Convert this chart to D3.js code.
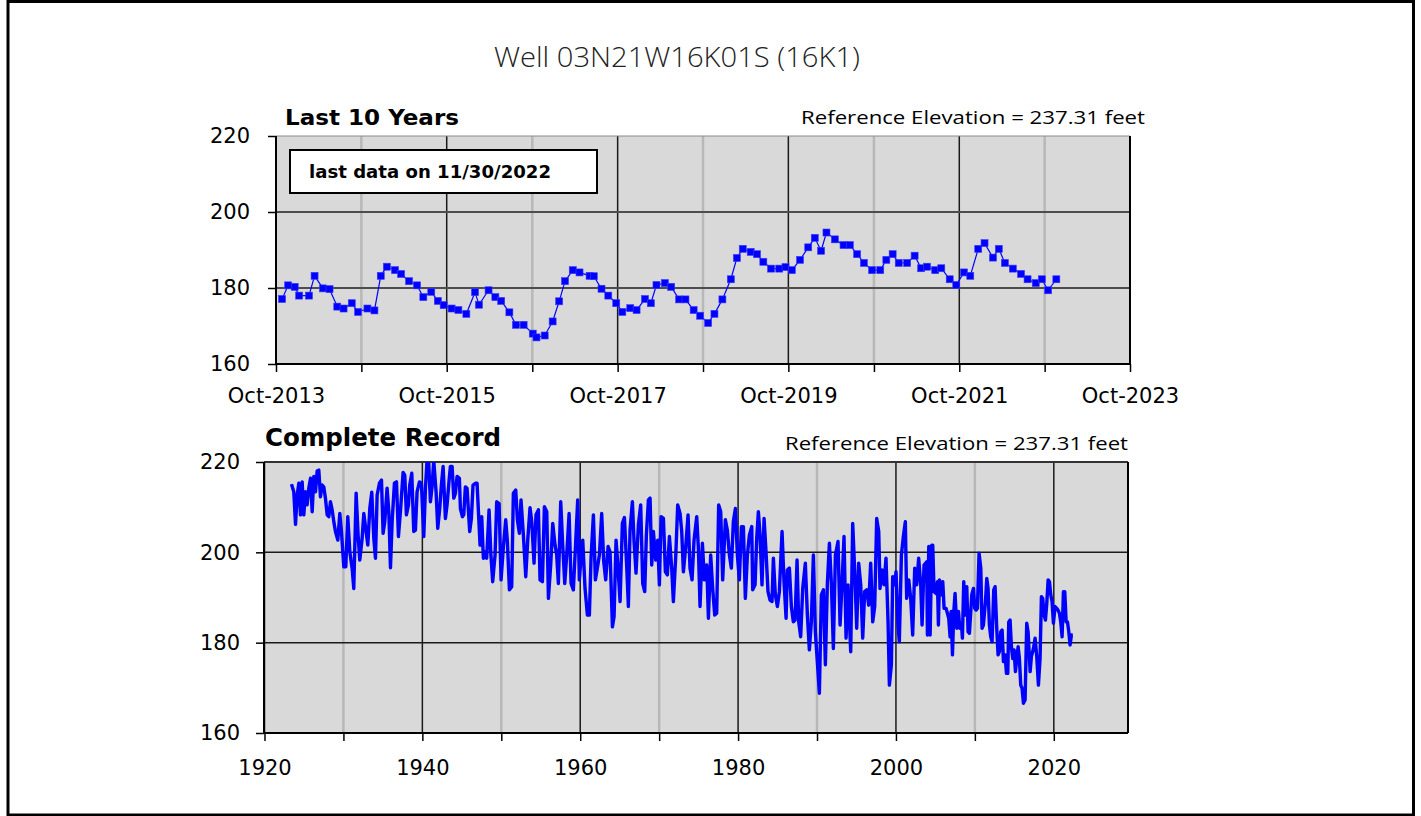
<!DOCTYPE html>
<html><head><meta charset="utf-8">
<script src="https://cdn.jsdelivr.net/npm/d3@7"></script>
<style>body{margin:0;background:#fff;} svg{display:block;}</style>
</head><body>
<svg id="chart" width="1421" height="816"></svg>
<script>
// ---------------- DATA ----------------
const titleText = "Well 03N21W16K01S (16K1)";
const topTitle = "Last 10 Years";
const bottomTitle = "Complete Record";
const refElevText = "Reference Elevation = 237.31 feet";
const lastDataText = "last data on 11/30/2022";

const yTicks = [160, 180, 200, 220];
const tenYrTickYears = [2013, 2014, 2015, 2016, 2017, 2018, 2019, 2020, 2021, 2022, 2023];
const tenYrLabelYears = [2013, 2015, 2017, 2019, 2021, 2023];
const recordTickYears = [1920, 1930, 1940, 1950, 1960, 1970, 1980, 1990, 2000, 2010, 2020];
const recordLabelYears = [1920, 1940, 1960, 1980, 2000, 2020];

const tenYrDates = [
"2013-10-27","2013-11-22","2013-12-20","2014-01-08","2014-02-19","2014-03-15","2014-04-20","2014-05-18",
"2014-06-20","2014-07-17","2014-08-21","2014-09-17","2014-10-27","2014-11-26","2014-12-23","2015-01-18",
"2015-02-22","2015-03-20","2015-04-23","2015-05-27","2015-06-23","2015-07-27","2015-08-24","2015-09-18",
"2015-10-22","2015-11-20","2015-12-24","2016-01-30","2016-02-16","2016-03-28","2016-04-26","2016-05-21",
"2016-06-25","2016-07-23","2016-08-25","2016-10-03","2016-10-19","2016-11-23","2016-12-27","2017-01-24",
"2017-02-18","2017-03-23","2017-04-21","2017-06-03","2017-06-21","2017-07-24","2017-08-22","2017-09-25",
"2017-10-21","2017-11-24","2017-12-21","2018-01-26","2018-02-20","2018-03-16","2018-04-21","2018-05-18",
"2018-06-21","2018-07-18","2018-08-22","2018-09-19","2018-10-23","2018-11-19","2018-12-23","2019-01-28",
"2019-02-23","2019-03-20","2019-04-23","2019-05-20","2019-06-16","2019-07-19","2019-08-23","2019-09-19",
"2019-10-16","2019-11-20","2019-12-25","2020-01-22","2020-02-18","2020-03-12","2020-04-17","2020-05-24",
"2020-06-20","2020-07-21","2020-08-19","2020-09-23","2020-10-28","2020-11-23","2020-12-20","2021-01-15",
"2021-02-20","2021-03-24","2021-04-21","2021-05-16","2021-06-20","2021-07-16","2021-08-21","2021-09-18",
"2021-10-21","2021-11-17","2021-12-21","2022-01-17","2022-02-22","2022-03-19","2022-04-14","2022-05-18",
"2022-06-22","2022-07-20","2022-08-24","2022-09-19","2022-10-16","2022-11-20"];
const tenYrLevels = [
177.1,180.7,180.3,178.0,178.0,183.2,179.9,179.7,
175.1,174.6,176.0,173.7,174.6,174.1,183.2,185.6,
184.7,183.7,181.8,180.7,177.6,179.0,176.6,175.5,
174.6,174.2,173.2,178.9,175.6,179.4,177.6,176.6,
173.6,170.3,170.3,168.0,167.0,167.5,171.2,176.5,
181.8,184.7,184.1,183.2,183.1,179.8,178.0,176.0,
173.7,174.7,174.2,177.1,176.0,180.8,181.3,180.3,
177.0,177.0,174.2,172.7,170.8,173.2,177.0,182.3,
187.9,190.3,189.5,188.9,186.9,185.1,185.1,185.5,
184.7,187.4,190.7,193.2,189.8,194.6,192.8,191.3,
191.3,188.9,186.6,184.7,184.7,187.4,188.9,186.6,
186.6,188.5,185.2,185.6,184.7,185.2,182.3,180.8,
184.1,183.2,190.3,191.8,188.0,190.3,186.6,185.1,
183.7,182.3,181.3,182.3,179.4,182.3];

const recordYears = [
1923.42,1923.71,1923.93,1924.14,1924.35,1924.56,1924.77,1924.98,1925.19,1925.40,1925.61,1925.83,1926.04,1926.25,1926.46,1926.67,1926.88,
1927.09,1927.30,1927.51,1927.72,1927.94,1928.15,1928.36,1928.57,1928.78,1928.99,1929.29,1929.54,1929.75,1930.05,1930.30,1930.55,1930.81,
1931.10,1931.31,1931.61,1931.86,1932.07,1932.37,1932.58,1932.79,1933.09,1933.34,1933.59,1933.85,1934.06,1934.27,1934.56,1934.82,1935.03,
1935.24,1935.53,1935.75,1935.96,1936.17,1936.46,1936.72,1936.97,1937.22,1937.56,1937.77,1937.98,1938.24,1938.40,1938.66,1938.91,1939.12,
1939.33,1939.63,1939.88,1940.18,1940.39,1940.60,1940.81,1941.02,1941.23,1941.44,1941.74,1941.95,1942.20,1942.41,1942.63,1942.92,1943.13,
1943.39,1943.55,1943.77,1943.98,1944.19,1944.40,1944.69,1944.82,1945.07,1945.24,1945.45,1945.66,1946.00,1946.21,1946.42,1946.72,1946.93,
1947.31,1947.52,1947.73,1947.94,1948.15,1948.45,1948.66,1948.91,1949.21,1949.42,1949.72,1949.97,1950.27,1950.56,1950.77,1951.03,1951.32,
1951.53,1951.83,1952.04,1952.29,1952.50,1952.80,1953.10,1953.35,1953.64,1953.86,1954.15,1954.40,1954.70,1954.91,1955.21,1955.46,1955.76,
1955.97,1956.26,1956.52,1956.81,1957.02,1957.23,1957.53,1957.78,1958.04,1958.29,1958.59,1958.84,1959.13,1959.43,1959.68,1959.89,1960.15,
1960.32,1960.61,1960.91,1961.16,1961.37,1961.67,1961.92,1962.17,1962.43,1962.72,1962.98,1963.23,1963.53,1963.78,1964.08,1964.29,1964.54,
1964.75,1965.05,1965.34,1965.60,1965.89,1966.10,1966.31,1966.61,1966.82,1967.07,1967.37,1967.66,1967.92,1968.17,1968.38,1968.64,1968.85,
1969.06,1969.27,1969.57,1969.82,1970.03,1970.24,1970.54,1970.79,1971.04,1971.30,1971.59,1971.80,1972.10,1972.35,1972.65,1972.86,1973.07,
1973.37,1973.66,1973.91,1974.17,1974.42,1974.76,1974.97,1975.18,1975.48,1975.73,1976.03,
1976.24,1976.53,1976.78,1977.04,1977.29,1977.54,1977.80,1978.05,1978.39,1978.64,1978.90,1979.15,1979.40,1979.66,1979.91,1980.16,1980.42,
1980.67,1980.92,1981.18,1981.43,1981.73,1981.85,1982.15,1982.36,1982.57,1982.78,1983.03,1983.29,1983.54,1983.79,1984.05,1984.30,1984.47,
1984.72,1984.98,1985.23,1985.57,1985.82,1986.08,1986.24,1986.50,1986.75,1987.00,1987.22,1987.47,1987.68,1987.93,1988.19,1988.52,1988.78,
1989.03,1989.28,1989.54,1989.79,1990.04,1990.30,1990.55,1990.81,1991.06,1991.31,1991.57,1991.82,1992.07,1992.33,1992.66,1992.92,1993.17,
1993.42,1993.68,1993.93,1994.27,1994.52,1994.78,1995.03,1995.28,1995.54,1995.79,1996.04,1996.30,1996.55,1996.80,1997.06,1997.31,1997.56,
1997.82,1997.98,1998.24,1998.49,1998.74,1999.00,1999.17,1999.42,1999.59,1999.84,2000.01,2000.26,2000.43,2000.69,2000.94,2001.19,2001.36,
2001.62,2001.87,2002.12,2002.38,2002.63,2002.88,2003.14,2003.31,2003.56,2003.90,
2003.99,2004.16,2004.33,2004.54,2004.66,2004.83,2005.09,2005.26,2005.38,2005.51,2005.72,2005.93,2006.10,2006.35,2006.52,2006.69,2006.86,
2006.99,2007.16,2007.33,2007.49,2007.71,2007.92,2008.09,2008.30,2008.42,2008.59,2008.80,2008.97,2009.14,2009.31,2009.48,2009.61,2009.82,
2009.99,2010.15,2010.32,2010.53,2010.75,2010.91,2011.08,2011.34,2011.51,2011.67,2011.84,2012.01,2012.18,2012.39,2012.56,2012.77,2012.94,
2013.11,2013.28,2013.45,2013.62,2013.83,2014.00,2014.17,2014.29,2014.46,2014.63,2014.80,2014.97,2015.14,2015.31,2015.48,2015.64,2015.81,
2015.98,2016.15,2016.36,2016.57,2016.74,2017.00,2017.16,2017.42,2017.63,2017.84,2018.05,2018.26,2018.43,2018.60,2018.77,2018.94,2019.11,
2019.28,2019.45,2019.61,2019.78,2019.95,2020.16,2020.37,2020.54,2020.71,2020.88,2021.05,2021.22,2021.39,2021.56,2021.73,2021.90,2022.06,
2022.23,2022.40];
const recordLevels = [
215.1,213.4,206.2,212.7,215.3,208.3,215.6,208.3,213.4,210.5,214.2,216.4,209.0,216.8,213.4,218.0,218.2,
212.3,214.9,214.5,212.0,208.3,207.9,211.2,209.4,206.8,204.6,202.7,208.6,204.6,196.8,196.8,207.9,200.1,
196.5,192.0,213.1,203.8,198.3,203.1,208.6,205.7,201.6,209.7,213.3,203.1,198.7,212.7,215.3,216.0,204.2,
206.8,214.2,209.0,196.6,206.8,215.3,215.6,203.5,209.0,217.7,217.1,208.3,210.5,214.9,217.5,204.6,204.9,
213.4,215.6,215.3,203.5,214.2,220.5,219.7,211.2,214.5,220.3,213.4,205.3,209.7,214.9,219.0,207.5,210.5,
216.0,219.0,219.0,212.0,213.1,216.8,216.4,209.7,207.9,208.3,214.5,214.2,204.6,207.5,214.9,215.3,215.3,
201.6,207.9,198.7,200.1,198.7,209.4,200.1,193.5,199.4,211.2,210.8,193.9,201.3,207.2,202.4,191.7,192.4,
213.1,213.8,207.2,204.2,211.6,203.8,194.6,202.7,209.9,206.8,197.6,208.3,209.4,193.9,193.5,210.1,209.0,
189.8,197.2,206.4,201.6,199.4,193.1,211.2,201.6,193.1,199.4,208.6,193.1,191.7,202.4,211.6,193.9,199.8,
202.7,192.0,186.1,186.1,198.7,208.3,193.9,196.5,199.4,208.6,197.9,193.9,201.3,200.1,183.5,185.8,202.7,
197.6,189.1,206.4,207.7,196.8,188.0,204.9,211.2,202.4,195.4,206.1,210.5,193.1,191.3,203.8,211.6,212.0,
197.2,204.6,198.3,202.7,192.8,207.9,207.5,195.7,195.0,203.5,196.5,189.1,199.0,210.5,208.6,204.6,195.7,
201.3,208.3,196.5,193.9,202.7,207.9,200.9,188.0,202.0,193.9,197.2,
185.4,199.4,192.0,186.1,186.5,210.5,209.0,193.9,207.2,204.9,199.4,196.5,206.8,209.7,199.4,193.9,205.7,
205.7,189.8,199.4,203.8,205.7,191.7,192.8,203.1,209.0,203.8,192.8,207.5,200.1,191.3,189.4,189.1,198.7,
190.6,188.0,191.3,204.6,193.5,185.4,196.1,196.5,188.0,184.6,185.0,198.3,184.6,181.3,192.0,197.6,186.1,
178.4,184.6,199.4,182.4,175.8,168.8,190.6,191.7,175.1,193.1,202.0,193.1,178.7,199.4,202.4,183.9,193.1,
203.5,181.0,192.8,178.0,206.4,195.7,183.2,197.6,192.8,181.0,191.3,191.7,188.3,197.6,184.6,188.0,207.5,
204.6,192.0,196.1,192.8,198.7,184.6,170.6,175.1,194.6,192.8,195.7,183.9,180.2,199.4,203.5,206.8,189.8,
193.9,189.8,181.7,196.5,192.8,198.7,192.8,183.9,197.2,197.9,
181.7,201.3,181.7,201.6,201.6,191.3,190.9,193.5,183.9,193.9,190.6,193.5,187.6,187.6,186.5,185.4,181.3,
186.9,177.3,186.9,190.9,183.2,186.9,183.2,184.3,181.0,193.5,186.1,192.4,182.4,182.1,186.9,190.6,192.0,
187.6,187.2,187.6,199.8,196.5,183.2,183.9,189.1,194.2,192.0,183.9,181.3,180.2,191.7,192.4,183.2,177.3,
178.0,182.4,182.8,175.8,177.3,173.2,173.2,184.6,185.0,179.1,176.5,178.4,173.6,176.5,179.1,176.5,170.6,
169.9,166.6,167.3,184.3,182.4,173.6,176.9,178.7,181.0,176.9,170.6,176.5,190.2,189.8,186.1,185.0,188.7,
193.9,193.5,190.6,189.1,184.3,188.0,187.6,187.2,186.5,184.6,181.3,191.3,191.3,184.6,184.6,182.4,179.5,
181.7,181.7];

// ---------------- DRAWING ----------------
const svg = d3.select("#chart");
const BLUE = "#0000ff";
const PLOT_BG = "#d9d9d9";
const TICK_FONT = "'DejaVu Sans', Verdana, sans-serif";

// outer frame
svg.append("rect").attr("x", 8).attr("y", 1.5).attr("width", 1405.5).attr("height", 813.5)
  .attr("fill", "#fff").attr("stroke", "#000").attr("stroke-width", 3);

// title
svg.append("text").attr("x", 677).attr("y", 67).attr("text-anchor", "middle")
  .attr("font-family", "'Open Sans', sans-serif").attr("font-weight", 300).attr("font-size", 28)
  .attr("textLength", 366).attr("lengthAdjust", "spacingAndGlyphs")
  .attr("fill", "#222").text(titleText);

function makePanel(cfg) {
  const g = svg.append("g");
  const {x, y, L, R, T, B} = cfg;
  const clipId = cfg.id + "-clip";
  svg.append("defs").append("clipPath").attr("id", clipId)
    .append("rect").attr("x", L).attr("y", T).attr("width", R - L).attr("height", B - T);

  g.append("rect").attr("x", L).attr("y", T).attr("width", R - L).attr("height", B - T).attr("fill", PLOT_BG);

  g.selectAll(".vg").data(cfg.vTicks).enter().append("line")
    .attr("x1", d => x(d)).attr("x2", d => x(d)).attr("y1", T).attr("y2", B)
    .attr("stroke", d => cfg.isMajor(d) ? "#1a1a1a" : "#b8b8b8")
    .attr("stroke-width", d => cfg.isMajor(d) ? 1.5 : 2.5);
  g.selectAll(".hg").data(yTicks.filter(v => v > 160 && v < 220)).enter().append("line")
    .attr("x1", L).attr("x2", R).attr("y1", d => y(d)).attr("y2", d => y(d))
    .attr("stroke", cfg.hColor).attr("stroke-width", cfg.hWidth);
  g.append("line").attr("x1", L).attr("x2", R).attr("y1", T).attr("y2", T)
    .attr("stroke", cfg.topColor).attr("stroke-width", cfg.topWidth);
  g.append("line").attr("x1", R).attr("x2", R).attr("y1", T).attr("y2", B)
    .attr("stroke", "#000").attr("stroke-width", 2);

  const xAxis = d3.axisBottom(x).tickValues(cfg.vTicks).tickSize(8).tickPadding(cfg.xPad)
    .tickFormat(d => cfg.isMajor(d) ? cfg.fmt(d) : "");
  const gx = g.append("g").attr("transform", `translate(0,${B})`).call(xAxis);
  const yAxis = d3.axisLeft(y).tickValues(yTicks).tickSize(8).tickPadding(cfg.yPad);
  const gy = g.append("g").attr("transform", `translate(${L},0)`).call(yAxis);
  [gx, gy].forEach(a => {
    a.select(".domain").attr("stroke", "#000").attr("stroke-width", 2);
    a.selectAll(".tick line").attr("stroke", "#000").attr("stroke-width", 1.5);
    a.selectAll("text").attr("font-family", TICK_FONT).attr("font-size", 21).attr("fill", "#000");
  });
  gx.select(".domain").attr("d", `M${L},0H${R}`);
  gy.select(".domain").attr("d", `M0,${T}V${B}`);
  return {g, clipId};
}

// ---------- TOP: Last 10 Years ----------
const xTop = d3.scaleTime().domain([new Date(2013, 9, 1), new Date(2023, 9, 1)]).range([276, 1130]);
const yTop = d3.scaleLinear().domain([160, 220]).range([364, 136]);
const monFmt = d3.timeFormat("%b-%Y");
const topPanel = makePanel({
  id: "toppanel", x: xTop, y: yTop, L: 276, R: 1130, T: 136, B: 364,
  vTicks: tenYrTickYears.map(yr => new Date(yr, 9, 1)),
  isMajor: d => tenYrLabelYears.includes(d.getFullYear()),
  fmt: monFmt, xPad: 16, yPad: 18,
  hColor: "#4d4d4d", hWidth: 2, topColor: "#8c8c8c", topWidth: 1
});
const parseDate = d3.timeParse("%Y-%m-%d");
const topData = tenYrDates.map((d, i) => ({date: parseDate(d), v: tenYrLevels[i]}));
const pg = topPanel.g.append("g").attr("clip-path", `url(#${topPanel.clipId})`);
pg.append("path").datum(topData)
  .attr("d", d3.line().x(d => xTop(d.date)).y(d => yTop(d.v)))
  .attr("fill", "none").attr("stroke", BLUE).attr("stroke-width", 1.2);
pg.selectAll(".mk").data(topData).enter().append("rect")
  .attr("x", d => xTop(d.date) - 3.5).attr("y", d => yTop(d.v) - 3.5)
  .attr("width", 7).attr("height", 7).attr("fill", BLUE).attr("stroke", "#3a3aff").attr("stroke-width", 0.6);

svg.append("rect").attr("x", 290).attr("y", 150).attr("width", 307).attr("height", 43)
  .attr("fill", "#fff").attr("stroke", "#000").attr("stroke-width", 2);
svg.append("text").attr("x", 309).attr("y", 178)
  .attr("font-family", "'DejaVu Sans', sans-serif").attr("font-weight", "bold").attr("font-size", 17)
  .attr("textLength", 242).attr("lengthAdjust", "spacingAndGlyphs")
  .attr("fill", "#000").text(lastDataText);

svg.append("text").attr("x", 285).attr("y", 125)
  .attr("font-family", "'DejaVu Sans', sans-serif").attr("font-weight", "bold").attr("font-size", 21)
  .attr("textLength", 174).attr("lengthAdjust", "spacingAndGlyphs").text(topTitle);
svg.append("text").attr("x", 801).attr("y", 124)
  .attr("font-family", "'Open Sans', sans-serif").attr("font-size", 19)
  .attr("textLength", 344).attr("lengthAdjust", "spacingAndGlyphs").text(refElevText);

// ---------- BOTTOM: Complete Record ----------
const xBot = d3.scaleLinear().domain([1920, 2029.4]).range([264.5, 1128]);
const yBot = d3.scaleLinear().domain([160, 220]).range([733, 462]);
const botPanel = makePanel({
  id: "botpanel", x: xBot, y: yBot, L: 264, R: 1128, T: 462, B: 733,
  vTicks: recordTickYears,
  isMajor: d => recordLabelYears.includes(d),
  fmt: d => String(d), xPad: 19, yPad: 16,
  hColor: "#1a1a1a", hWidth: 1.5, topColor: "#333", topWidth: 2
});
const botData = recordYears.map((yr, i) => ({yr, v: recordLevels[i]}));
botPanel.g.append("g").attr("clip-path", `url(#${botPanel.clipId})`).append("path").datum(botData)
  .attr("d", d3.line().x(d => xBot(d.yr)).y(d => yBot(d.v)))
  .attr("fill", "none").attr("stroke", BLUE).attr("stroke-width", 3.4).attr("stroke-linejoin", "round");

svg.append("text").attr("x", 265).attr("y", 446)
  .attr("font-family", "'DejaVu Sans', sans-serif").attr("font-weight", "bold").attr("font-size", 24)
  .attr("textLength", 236).attr("lengthAdjust", "spacingAndGlyphs").text(bottomTitle);
svg.append("text").attr("x", 785).attr("y", 450)
  .attr("font-family", "'Open Sans', sans-serif").attr("font-size", 19)
  .attr("textLength", 343).attr("lengthAdjust", "spacingAndGlyphs").text(refElevText);
</script>
</body></html>
